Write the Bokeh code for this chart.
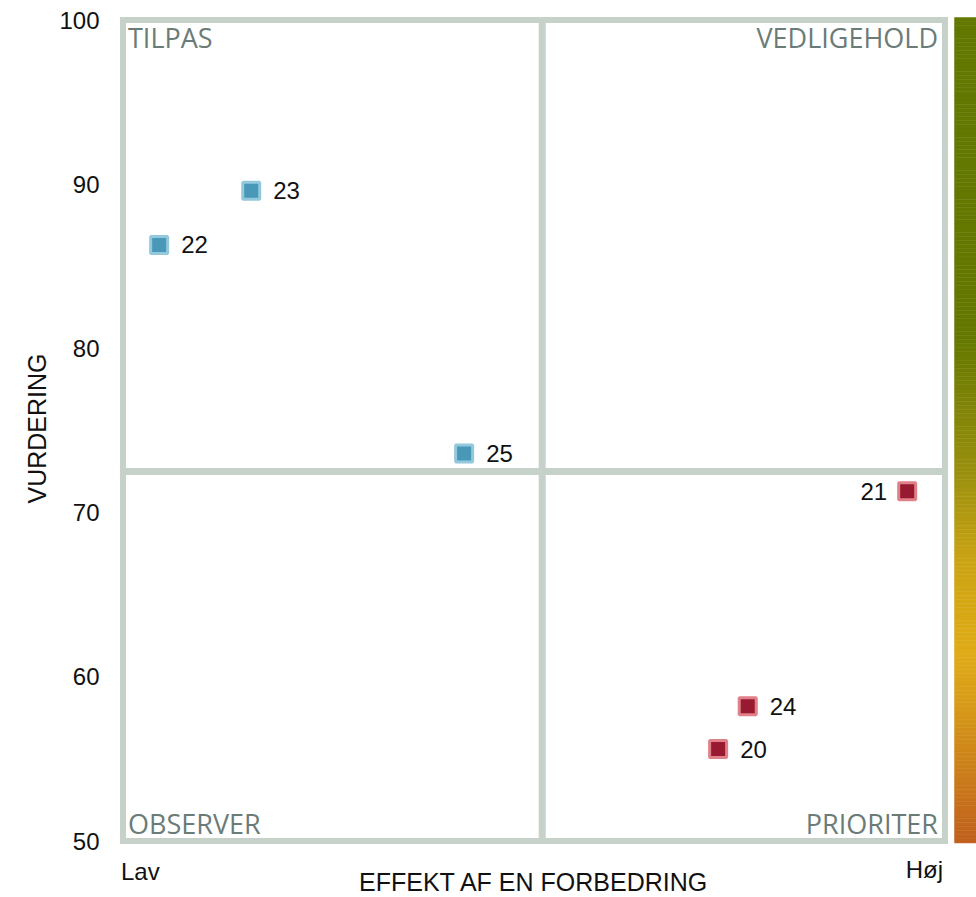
import numpy as np
from bokeh.plotting import figure
from bokeh.models import Range1d, FixedTicker, Label, ColumnDataSource, Title
from bokeh.embed import file_html
from bokeh.resources import INLINE
from bokeh.core.properties import value

# ---- data ----
ids = ["20", "21", "22", "23", "24", "25"]
effekt = [72.4, 95.4, 4.4, 15.6, 76.0, 41.5]
vurdering = [55.6, 71.3, 86.3, 89.6, 58.2, 73.6]
groups = ["prioriter", "prioriter", "tilpas", "tilpas", "prioriter", "tilpas"]

x_min, x_max = 0, 100
y_min, y_max = 50, 100
x_split = 51
y_split = 72.5
y_ticks = [50, 60, 70, 80, 90, 100]
x_end_labels = ["Lav", "Høj"]
quadrant_names = ["TILPAS", "VEDLIGEHOLD", "OBSERVER", "PRIORITER"]
x_title = "EFFEKT AF EN FORBEDRING"
y_title = "VURDERING"

# gradient bar colour stops (fraction from top, colour)
bar_stop_pos = [0.0, 0.39, 0.42, 0.55, 0.66, 0.77, 0.83, 0.91, 1.0]
bar_stop_col = ["#637800", "#657900", "#6f7d04", "#9a900e", "#cca414",
                "#e0ac18", "#d89c18", "#cc801a", "#c0601e"]

# ---- styles ----
FRAME = "#c6d1c9"
QCOL = "#6b7b78"
TXT = "#111111"
fill_map = {"prioriter": "#981a30", "tilpas": "#4a98b8"}
line_map = {"prioriter": "#e08088", "tilpas": "#94c8dc"}

PX_X = 8.22   # pixels per x unit
PX_Y = 16.42  # pixels per y unit
left_pad, top_pad = 3.5, 3.5
frame_w, frame_h = 857, 880
x0 = x_min - left_pad / PX_X
y1 = y_max + top_pad / PX_Y

p = figure(frame_width=frame_w, frame_height=frame_h,
           min_border_left=119, min_border_right=0, min_border_top=16, min_border_bottom=0,
           x_range=Range1d(x0, x0 + frame_w / PX_X), y_range=Range1d(y1 - frame_h / PX_Y, y1),
           output_backend="svg", toolbar_location=None)
p.grid.visible = False
p.outline_line_color = None
p.xaxis.visible = False
p.background_fill_color = "white"
p.border_fill_color = "white"

ya = p.yaxis[0]
ya.ticker = FixedTicker(ticks=y_ticks)
ya.axis_line_color = None
ya.major_tick_line_color = None
ya.minor_tick_line_color = None
ya.major_label_text_font = "Liberation Sans"
ya.major_label_text_font_size = "24px"
ya.major_label_text_color = TXT
ya.major_label_standoff = 14

p.add_layout(Title(text=y_title, align="left", offset=393, standoff=12,
                   text_font="Liberation Sans", text_font_size="25px",
                   text_font_style="normal", text_color=TXT), "left")

# gradient bar
n = 200
fr = np.linspace(0, 1, n + 1)
def hex2rgb(h):
    return [int(h[i:i + 2], 16) for i in (1, 3, 5)]
rgb = np.array([hex2rgb(c) for c in bar_stop_col], dtype=float)
mid = (fr[:-1] + fr[1:]) / 2
cols = []
for m in mid:
    r = np.interp(m, bar_stop_pos, rgb[:, 0])
    g = np.interp(m, bar_stop_pos, rgb[:, 1])
    b = np.interp(m, bar_stop_pos, rgb[:, 2])
    cols.append("#%02x%02x%02x" % (int(r), int(g), int(b)))
bar_top, bar_bot = y_max + 0.15, y_min - 0.12
tops = bar_top - fr[:-1] * (bar_top - bar_bot)
bots = bar_top - fr[1:] * (bar_top - bar_bot)
p.quad(left=101.16, right=104.5, top=tops, bottom=bots, fill_color=cols, line_color=cols, line_width=0.5)

# frame and quadrant lines
p.quad(left=[x_min], right=[x_max], bottom=[y_min], top=[y_max],
       fill_color=None, line_color=FRAME, line_width=6, line_join="miter")
p.segment(x0=[x_split, x_min], y0=[y_min, y_split], x1=[x_split, x_max], y1=[y_max, y_split],
          line_color=FRAME, line_width=7)

# points
src = ColumnDataSource(dict(
    x=effekt, y=vurdering, id=ids,
    fill=[fill_map[g] for g in groups], line=[line_map[g] for g in groups],
    xo=[-20 if x > 90 else 22 for x in effekt],
    align=["right" if x > 90 else "left" for x in effekt],
))
p.scatter("x", "y", source=src, marker="square", size=17, fill_color="fill",
          line_color="line", line_width=3)
p.text("x", "y", text="id", source=src, x_offset="xo", text_align="align",
       text_baseline="middle", text_font=value("Liberation Sans"), text_font_size="24px",
       text_color=TXT)

# quadrant labels
qf = dict(text_font="Open Sans", text_font_size="27px", text_color=QCOL)
p.add_layout(Label(x=x_min, y=y_max, text=quadrant_names[0], x_offset=5, y_offset=1,
                   text_align="left", text_baseline="top", **qf))
p.add_layout(Label(x=x_max, y=y_max, text=quadrant_names[1], x_offset=-7, y_offset=1,
                   text_align="right", text_baseline="top", **qf))
p.add_layout(Label(x=x_min, y=y_min, text=quadrant_names[2], x_offset=5, y_offset=18,
                   text_align="left", text_baseline="alphabetic", **qf))
p.add_layout(Label(x=x_max, y=y_min, text=quadrant_names[3], x_offset=-7, y_offset=18,
                   text_align="right", text_baseline="alphabetic", **qf))

# x end labels and title (inside the extended frame)
tf = dict(text_font="Liberation Sans", text_font_size="24px", text_color=TXT)
p.add_layout(Label(x=x_min, y=y_min, text=x_end_labels[0], x_offset=-2, y_offset=-17,
                   text_align="left", text_baseline="top", **tf))
p.add_layout(Label(x=x_max, y=y_min, text=x_end_labels[1], x_offset=-2, y_offset=-15,
                   text_align="right", text_baseline="top", **tf))
p.add_layout(Label(x=(x_min + x_max) / 2, y=y_min, text=x_title, y_offset=-27,
                   text_align="center", text_baseline="top", text_font="Liberation Sans",
                   text_font_size="25px", text_color=TXT))

open("out.html", "w").write(file_html(p, INLINE))
